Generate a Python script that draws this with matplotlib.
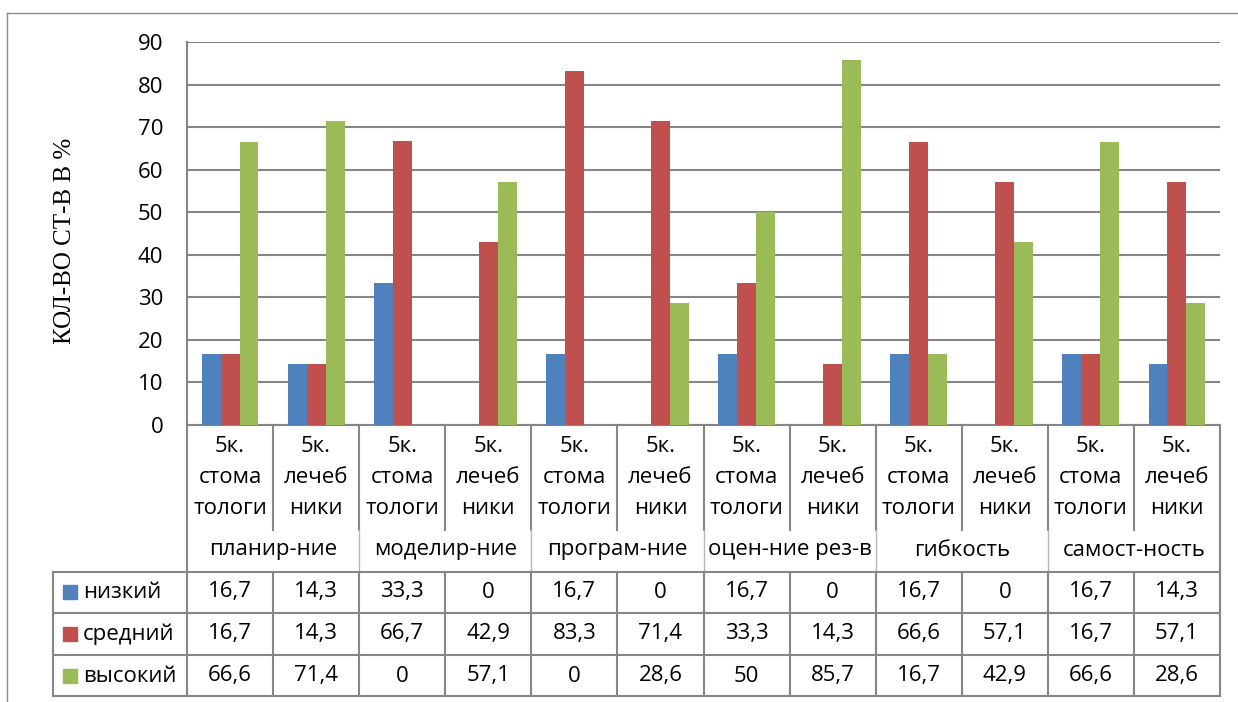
import matplotlib.pyplot as plt
from matplotlib.lines import Line2D

plt.rcParams['font.family'] = ['Open Sans', 'DejaVu Sans']

# данные по уровням
groups = ["планир-ние", "моделир-ние", "програм-ние", "оцен-ние рез-в", "гибкость", "самост-ность"]
courses = ["5к.\nстома\nтологи", "5к.\nлечеб\nники"]
levels = ["низкий", "средний", "высокий"]
low = [16.7, 14.3, 33.3, 0, 16.7, 0, 16.7, 0, 16.7, 0, 16.7, 14.3]
mid = [16.7, 14.3, 66.7, 42.9, 83.3, 71.4, 33.3, 14.3, 66.6, 57.1, 16.7, 57.1]
high = [66.6, 71.4, 0, 57.1, 0, 28.6, 50, 85.7, 16.7, 42.9, 66.6, 28.6]
colors = ["#4F81BD", "#C0504D", "#9BBB59"]

W, H = 1238, 702
X0, X1, Y0, Y1 = 187, 1220, 425, 42   # область построения, пиксели
GRID = "#868686"
FS = 16

fig = plt.figure(figsize=(W / 100, H / 100), dpi=100)
ax = fig.add_axes([X0 / W, 1 - Y0 / H, (X1 - X0) / W, (Y0 - Y1) / H])

n = len(low)
xs = list(range(n))
bw = 0.22
for k, vals in enumerate([low, mid, high]):
    ax.bar([x + (k - 1) * bw for x in xs], vals, width=bw, color=colors[k], zorder=3)

ax.set_xlim(-0.5, n - 0.5)
ax.set_ylim(0, 90)
ax.set_yticks(range(0, 91, 10))
ax.set_xticks([])
ax.tick_params(axis='y', length=0, pad=17, labelsize=FS)
ax.yaxis.grid(True, color=GRID, lw=1.5)
for s in ['top', 'right']:
    ax.spines[s].set_visible(False)
for s in ['left', 'bottom']:
    ax.spines[s].set_color(GRID)
    ax.spines[s].set_linewidth(1.5)

ax.set_ylabel("КОЛ-ВО СТ-В В %", family='Liberation Serif', fontsize=18, labelpad=0)
ax.yaxis.set_label_coords((76 - X0) / (X1 - X0), (Y0 - 241) / (Y0 - Y1))

# таблица под осью
tr = ax.get_xaxis_transform()
px = 1.0 / (Y0 - Y1)


def fy(y):
    return (Y0 - y) * px


colw = (X1 - X0) / n
xleg = -0.5 - (X0 - 53) / colw
tab_top, rows = 572, [572, 613, 655, 696]


def vline(x, ya, yb, **kw):
    ax.plot([x, x], [fy(ya), fy(yb)], color=kw.get('c', GRID), lw=kw.get('lw', 1.5),
            transform=tr, clip_on=False)


def hline(xa, xb, y):
    ax.plot([xa, xb], [fy(y), fy(y)], color=GRID, lw=1.5, transform=tr, clip_on=False)


vline(-0.5, Y0, 696)
vline(n - 0.5, Y0, 696)
for i in range(n - 1):
    if i % 2 == 1:
        vline(i + 0.5, Y0, 530)
        vline(i + 0.5, 530, tab_top, c="#b8b8b8", lw=1)
        vline(i + 0.5, tab_top, 696)
    else:
        vline(i + 0.5, Y0, 530)
        vline(i + 0.5, tab_top, 696)
vline(xleg, tab_top, 696)
for y in rows:
    hline(xleg, n - 0.5, y)

# подписи столбцов
for i in xs:
    for j, line in enumerate(courses[i % 2].split("\n")):
        ax.text(i, fy(446 + j * 31.5), line, transform=tr, ha='center', va='center',
                fontsize=FS, clip_on=False)
for g, name in enumerate(groups):
    ax.text(2 * g + 0.5, fy(550), name, transform=tr, ha='center', va='center',
            fontsize=FS, clip_on=False)


def fmt(v):
    return f"{v:g}".replace('.', ',')


centers = [592, 634, 676]
for k, vals in enumerate([low, mid, high]):
    yc = fy(centers[k])
    ax.plot([-0.5 - (X0 - 69.5) / colw], [yc], marker='s', ms=10.5, color=colors[k],
            transform=tr, clip_on=False, lw=0)
    ax.text(-0.5 - (X0 - 83) / colw, yc, levels[k], transform=tr, ha='left', va='center',
            fontsize=FS, clip_on=False)
    for i, v in enumerate(vals):
        ax.text(i, yc, fmt(v), transform=tr, ha='center', va='center', fontsize=FS, clip_on=False)

# рамка диаграммы
fig.add_artist(Line2D([7 / W, 1], [1 - 13 / H, 1 - 13 / H], color="#8c8c8c", lw=1))
fig.add_artist(Line2D([7 / W, 7 / W], [1 - 13 / H, 0], color="#8c8c8c", lw=1))

fig.savefig("out.png", dpi=100)
